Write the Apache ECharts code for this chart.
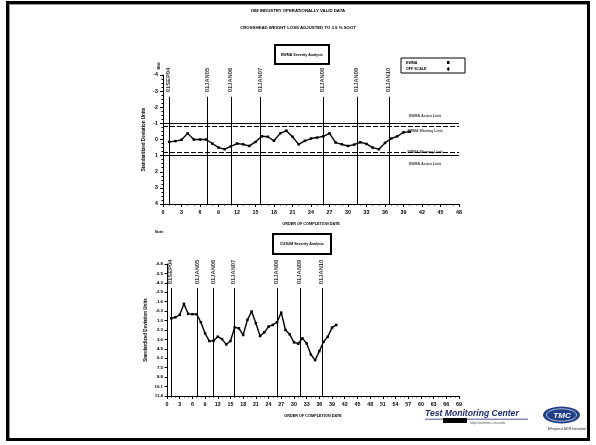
<!DOCTYPE html>
<html>
<head>
<meta charset="utf-8">
<script src="https://cdn.jsdelivr.net/npm/echarts@6/dist/echarts.min.js"></script>
<style>
  html, body { margin: 0; padding: 0; background: #fff; }
  #chart { position: absolute; left: 0; top: 0; width: 596px; height: 445px; }
  #frame { position: absolute; left: 6px; top: 1px; width: 578px; height: 434px;
           border: 3px solid #000; box-shadow: inset 1px 1px 0 #999; pointer-events: none; }
</style>
</head>
<body>
<div id="chart"></div>
<div id="frame"></div>
<script>
// EWMA of standardized results, in test completion order
const ewmaValues = [0.15, 0.10, 0.02, -0.38, 0.00, 0.00, 0.00, 0.25, 0.50, 0.60,
                    0.42, 0.25, 0.30, 0.40, 0.15, -0.20, -0.17, 0.08, -0.38, -0.55,
                    -0.17, 0.30, 0.08, -0.06, -0.12, -0.20, -0.38, 0.19, 0.30, 0.40,
                    0.32, 0.17, 0.27, 0.50, 0.60, 0.21, -0.06, -0.20, -0.44, -0.48];
// CUSUM of standardized results, same order
const cusumValues = [0.68, 0.54, 0.21, -1.30, 0.07, 0.12, 0.12, 1.23, 2.76, 3.82,
                     3.78, 3.22, 3.55, 4.29, 3.82, 1.93, 2.06, 2.99, 0.91, -0.25,
                     1.37, 3.13, 2.62, 1.83, 1.60, 1.23, -0.10, 2.30, 2.90, 4.00,
                     4.19, 3.45, 4.15, 5.68, 6.46, 5.21, 3.92, 3.22, 1.97, 1.60];
// Calendar markers (position in test order)
const dateLabels = ['01SEP04', '01JAN05', '01JAN06', '01JAN07', '01JAN08', '01JAN09', '01JAN10'];
const dateTestOrder = [1.0, 7.2, 11.0, 15.8, 26.0, 31.5, 36.7];
// EWMA limits
const actionLimits = [-1.0, 1.0];
const warningLimits = [-0.8, 0.8];
// Tick labels
const ewmaTicks = [-4, -3, -2, -1, 0, 1, 2, 3, 4];
const cusumTicks = [-6.8, -5.5, -4.2, -2.9, -1.6, -0.3, 1.0, 2.3, 3.6, 4.9, 6.2, 7.5, 8.8, 10.1, 11.4];

const FONT = 'Liberation Sans';
const txt = (size, extra) => Object.assign({ fontFamily: FONT, fontSize: size, fontWeight: 'bold', color: '#000' }, extra || {});

const chart = echarts.init(document.getElementById('chart'), null, { renderer: 'canvas' });

function xAxisCfg(grid, max) {
  return {
    type: 'value', gridIndex: grid, min: 0, max: max, interval: 3,
    axisLine: { show: true, onZero: false, lineStyle: { color: '#000', width: 1 } },
    axisTick: { show: true, length: 3, lineStyle: { color: '#000' } },
    minorTick: { show: true, splitNumber: 3, length: 1.5, lineStyle: { color: '#000' } },
    splitLine: { show: false },
    axisLabel: Object.assign(txt(5.3), { margin: 6 }),
    name: 'ORDER OF COMPLETION DATE', nameLocation: 'middle', nameGap: 18,
    nameTextStyle: txt(3.8)
  };
}

const markerSeries = (xi, yi, yStart, yEnd, yLabel) => ({
  type: 'scatter', xAxisIndex: xi, yAxisIndex: yi, silent: true, clip: false,
  symbolSize: 1, itemStyle: { color: 'rgba(0,0,0,0)' },
  data: dateTestOrder.map((x, i) => [x, yLabel, dateLabels[i]]),
  label: Object.assign(txt(5.8), {
    show: true, position: [0, 0], rotate: 90, align: 'left', verticalAlign: 'middle',
    formatter: p => p.data[2]
  }),
  markLine: {
    silent: true, symbol: 'none', animation: false,
    label: { show: false },
    lineStyle: { color: '#000', width: 1, type: 'solid' },
    data: dateTestOrder.map(x => [{ coord: [x, yStart] }, { coord: [x, yEnd] }])
  }
});

const limitText = [
  { v: actionLimits[0], name: 'EWMA Action Limit', dy: -7 },
  { v: warningLimits[0], name: 'EWMA Warning Limit', dy: 4 },
  { v: warningLimits[1], name: 'EWMA Warning Limit', dy: 0 },
  { v: actionLimits[1], name: 'EWMA Action Limit', dy: 8 }
];

const option = {
  animation: false,
  backgroundColor: '#fff',
  title: [
    { text: 'ISM INDUSTRY OPERATIONALLY VALID DATA', left: 'center', top: 4, textStyle: txt(4.3) },
    { text: 'CROSSHEAD WEIGHT LOSS ADJUSTED TO 3.9 % SOOT', left: 'center', top: 21, textStyle: txt(4.3) }
  ],
  grid: [
    { left: 163, top: 75, width: 296, height: 129 },
    { left: 167, top: 264, width: 292, height: 132 }
  ],
  xAxis: [xAxisCfg(0, 48), xAxisCfg(1, 69)],
  yAxis: [
    {
      type: 'value', gridIndex: 0, inverse: true, min: -4, max: 4, interval: 1,
      axisLine: { show: true, onZero: false, lineStyle: { color: '#000' } },
      axisTick: { show: true, length: 3, lineStyle: { color: '#000' } },
      minorTick: { show: true, splitNumber: 4, length: 1.5, lineStyle: { color: '#000' } },
      splitLine: { show: false },
      axisLabel: Object.assign(txt(5.3), { margin: 5 }),
      name: 'Standardized Deviation Units', nameLocation: 'middle', nameGap: 17,
      nameTextStyle: txt(4.6)
    },
    {
      type: 'value', gridIndex: 1, inverse: true, min: -6.8, max: 11.4,
      axisLine: { show: true, onZero: false, lineStyle: { color: '#000' } },
      axisTick: { show: true, length: 2.5, customValues: cusumTicks, lineStyle: { color: '#000' } },
      splitLine: { show: false },
      axisLabel: Object.assign(txt(4.4), { margin: 4, customValues: cusumTicks, formatter: v => v.toFixed(1) }),
      name: 'Standardized Deviation Units', nameLocation: 'middle', nameGap: 19,
      nameTextStyle: txt(4.6)
    }
  ],
  graphic: [
    // severity analysis boxes
    { type: 'rect', shape: { x: 275, y: 45, width: 54, height: 19 }, style: { fill: '#fff', stroke: '#000', lineWidth: 2 } },
    { type: 'text', x: 302, y: 54.5, style: { text: 'EWMA Severity Analysis', fill: '#000', font: 'bold 3.6px ' + FONT, align: 'center', verticalAlign: 'middle' } },
    { type: 'rect', shape: { x: 273, y: 234, width: 58, height: 20 }, style: { fill: '#fff', stroke: '#000', lineWidth: 2 } },
    { type: 'text', x: 302, y: 244, style: { text: 'CUSUM Severity Analysis', fill: '#000', font: 'bold 3.6px ' + FONT, align: 'center', verticalAlign: 'middle' } },
    // key box
    { type: 'rect', shape: { x: 401, y: 58, width: 64, height: 15 }, style: { fill: '#fff', stroke: '#000', lineWidth: 1 } },
    { type: 'text', x: 406, y: 62.5, style: { text: 'EWMA', fill: '#000', font: 'bold 3.6px ' + FONT, verticalAlign: 'middle' } },
    { type: 'text', x: 406, y: 69, style: { text: 'OFF SCALE', fill: '#000', font: 'bold 3.6px ' + FONT, verticalAlign: 'middle' } },
    { type: 'rect', shape: { x: 447, y: 61, width: 2.5, height: 3 }, style: { fill: '#000' } },
    { type: 'polygon', shape: { points: [[448.3, 66.8], [449.8, 69], [448.3, 71.2], [446.8, 69]] }, style: { fill: '#000' } },
    // side notes
    { type: 'text', x: 155, y: 232, style: { text: 'Note:', fill: '#000', font: 'bold 3.5px ' + FONT, verticalAlign: 'middle' } },
    { type: 'text', x: 159, y: 66, rotation: Math.PI / 2, style: { text: 'Mild', fill: '#000', font: 'bold 3.5px ' + FONT, align: 'center', verticalAlign: 'middle' } },
    // Test Monitoring Center mark
    { type: 'text', x: 425, y: 414, style: { text: 'Test Monitoring Center', fill: '#1e2d6e', font: 'italic bold 8.6px ' + FONT, verticalAlign: 'middle' } },
    { type: 'line', shape: { x1: 425, y1: 419.2, x2: 528, y2: 419.2 }, style: { stroke: '#1e2d6e', lineWidth: 0.8 } },
    { type: 'rect', shape: { x: 443, y: 418, width: 24, height: 5 }, style: { fill: '#000' } },
    { type: 'text', x: 470, y: 423.5, style: { text: 'http://astmtmc.cmu.edu', fill: '#555', font: '3.4px ' + FONT, verticalAlign: 'middle' } },
    { type: 'ellipse', shape: { cx: 561.5, cy: 415, rx: 18.5, ry: 8.5 }, style: { fill: '#213f86' } },
    { type: 'ellipse', shape: { cx: 561.5, cy: 415, rx: 15, ry: 6.2 }, style: { fill: 'none', stroke: '#d8e0f0', lineWidth: 0.8 } },
    { type: 'text', x: 562, y: 415.5, style: { text: 'TMC', fill: '#fff', font: 'italic bold 8px ' + FONT, align: 'center', verticalAlign: 'middle' } },
    { type: 'text', x: 567, y: 429.5, style: { text: 'A Program of ASTM International', fill: '#222', font: '2.6px ' + FONT, align: 'center', verticalAlign: 'middle' } }
  ],
  series: [
    {
      name: 'EWMA', type: 'line', xAxisIndex: 0, yAxisIndex: 0,
      data: ewmaValues.map((v, i) => [i + 1, v]),
      symbol: 'rect', symbolSize: 2.5, showAllSymbol: true,
      lineStyle: { color: '#000', width: 1.4 }, itemStyle: { color: '#000' },
      markLine: {
        silent: true, symbol: 'none', animation: false, label: { show: false },
        data: [
          { yAxis: actionLimits[0], lineStyle: { color: '#000', width: 1.2, type: 'solid' } },
          { yAxis: actionLimits[1], lineStyle: { color: '#000', width: 1.2, type: 'solid' } },
          { yAxis: warningLimits[0], lineStyle: { color: '#000', width: 1.2, type: [5, 2] } },
          { yAxis: warningLimits[1], lineStyle: { color: '#000', width: 1.2, type: [5, 2] } }
        ]
      }
    },
    {
      name: 'limit labels', type: 'scatter', xAxisIndex: 0, yAxisIndex: 0, silent: true,
      symbolSize: 1, itemStyle: { color: 'rgba(0,0,0,0)' },
      data: limitText.map(d => ({ value: [42.5, d.v], name: d.name, label: { offset: [0, d.dy] } })),
      label: Object.assign(txt(3.5), { show: true, position: 'inside', formatter: p => p.name, backgroundColor: '#fff' })
    },
    markerSeries(0, 0, -2.65, 4, -2.9),
    {
      name: 'CUSUM', type: 'line', xAxisIndex: 1, yAxisIndex: 1,
      data: cusumValues.map((v, i) => [i + 1, v]),
      symbol: 'rect', symbolSize: 2.5, showAllSymbol: true,
      lineStyle: { color: '#000', width: 1.4 }, itemStyle: { color: '#000' }
    },
    markerSeries(1, 1, -3.5, 11.4, -3.95)
  ]
};
chart.setOption(option);
</script>
</body>
</html>
